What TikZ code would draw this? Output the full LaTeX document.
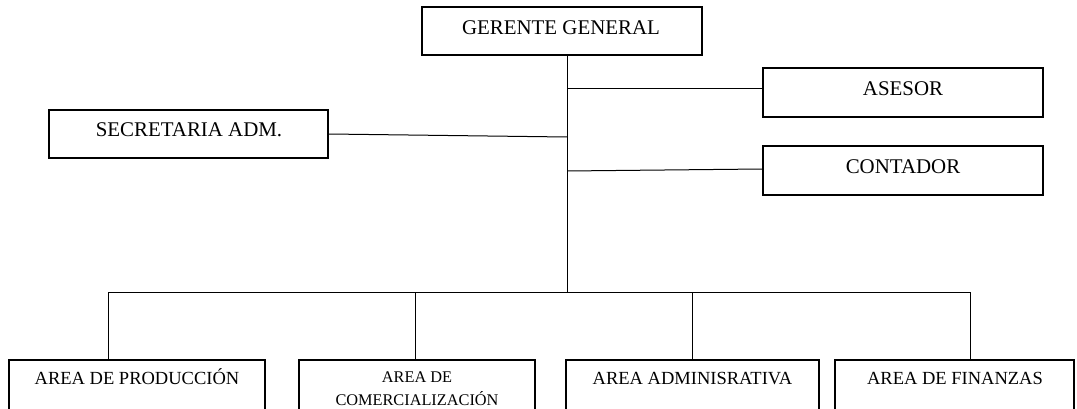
\documentclass[tikz,border=0pt]{standalone}
\usepackage{fontspec}
\setmainfont{Liberation Serif}
\begin{document}
\begin{tikzpicture}[x=1pt,y=-1pt,
  unit/.style={draw, line width=1.6pt, inner sep=0pt, minimum width=#1},
  lbl/.style={anchor=base, inner sep=0pt, font=\fontsize{20.9}{25}\selectfont},
  mid/.style={anchor=base, inner sep=0pt, font=\fontsize{18.5}{22}\selectfont},
  small/.style={anchor=base, inner sep=0pt, font=\fontsize{16.3}{20}\selectfont},
  link/.style={line width=1pt}]
\useasboundingbox (0,0) rectangle (1077,409);
\clip (0,0) rectangle (1077,409);

% upper level
\node[unit=280, minimum height=48] (gg) at (562,31) {};
\node[lbl] (ggt) at (561,35) {GERENTE GENERAL};
\node[unit=280, minimum height=49] (as) at (903,92.5) {};
\node[lbl] (ast) at (903,96) {ASESOR};
\node[unit=280, minimum height=49] (co) at (903,170.5) {};
\node[lbl] (cot) at (903,173.5) {CONTADOR};
\node[unit=279, minimum height=48] (se) at (188.5,134) {};
\node[lbl] (set) at (189,137) {SECRETARIA ADM.};

% lower level (boxes run past the lower edge)
\node[unit=256, minimum height=60] (p1) at (137,390) {};
\node[mid] (p1t) at (137,384.5) {AREA DE PRODUCCIÓN};
\node[unit=236, minimum height=60] (p2) at (417,390) {};
\node[small] (p2a) at (417,382.5) {AREA DE};
\node[small] (p2b) at (417,405) {COMERCIALIZACIÓN};
\node[unit=253, minimum height=60] (p3) at (692.5,390) {};
\node[mid] (p3t) at (692.5,384.5) {AREA ADMINISRATIVA};
\node[unit=239, minimum height=60] (p4) at (954.5,390) {};
\node[mid] (p4t) at (955,384.5) {AREA DE FINANZAS};

% junction points
\coordinate (t) at (567,292);
\coordinate (j1) at (567,89);
\coordinate (j2) at (567,171);
\coordinate (j3) at (567,137);
\coordinate (b1) at (108,292);
\coordinate (b2) at (415,292);
\coordinate (b3) at (692,292);
\coordinate (b4) at (970,292);

% connectors
\draw[link] (gg.south -| t) -- (t);
\draw[link] (j1) -- (j1 -| as.west);
\draw[link] (j2) -- ([yshift=2pt]j2 -| co.west);
\draw[link] (se.east) -- (j3);
\draw[link] (b1) -- (b4);
\draw[link] (b1) -- (b1 |- p1.north);
\draw[link] (b2) -- (b2 |- p2.north);
\draw[link] (b3) -- (b3 |- p3.north);
\draw[link] (b4) -- (b4 |- p4.north);
\end{tikzpicture}
\end{document}
